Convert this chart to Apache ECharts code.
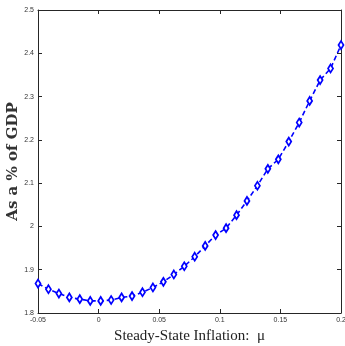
<!DOCTYPE html>
<html>
<head>
<meta charset="utf-8">
<script src="https://cdn.jsdelivr.net/npm/echarts@6/dist/echarts.min.js"></script>
<style>html,body{margin:0;padding:0;background:#fff}#c{width:345px;height:346px}</style>
</head>
<body>
<div id="c"></div>
<script>
const xStart = -0.05, xEnd = 0.2, nPoints = 30;
const inflation = [];
for (let i = 0; i < nPoints; i++) inflation.push(+(xStart + i * (xEnd - xStart) / (nPoints - 1)).toFixed(5));
const values = [1.868, 1.855, 1.845, 1.836, 1.832, 1.828, 1.828, 1.830, 1.836, 1.839,
                1.848, 1.859, 1.872, 1.889, 1.908, 1.930, 1.955, 1.980, 1.996, 2.026,
                2.059, 2.094, 2.133, 2.155, 2.196, 2.240, 2.290, 2.338, 2.365, 2.419];
const xTicks = [-0.05, 0, 0.05, 0.1, 0.15, 0.2];
const yTicks = [1.8, 1.9, 2, 2.1, 2.2, 2.3, 2.4, 2.5];
const xName = 'Steady-State Inflation:  μ';
const yName = 'As a % of GDP';

const chart = echarts.init(document.getElementById('c'), null, {renderer: 'canvas'});
const axisLine = {show: true, onZero: false, lineStyle: {color: '#262626', width: 1}};
const tick = {show: true, inside: true, length: 4, lineStyle: {color: '#262626', width: 1}};
const lbl = {color: '#333', fontSize: 7, fontFamily: 'Liberation Sans, Arial, sans-serif'};
chart.setOption({
  animation: false,
  grid: {left: 38, right: 4, top: 10, bottom: 33, containLabel: false, outerBoundsMode: 'none'},
  xAxis: [{
    type: 'value', min: -0.05, max: 0.2, interval: 0.05,
    axisLine: axisLine, axisTick: tick, splitLine: {show: false},
    axisLabel: Object.assign({margin: 4}, lbl),
    name: xName, nameLocation: 'middle', nameGap: 16,
    nameTextStyle: {fontSize: 15, fontFamily: 'Liberation Serif, Times New Roman, serif', color: '#222'}
  }, {
    type: 'value', position: 'top', min: -0.05, max: 0.2, interval: 0.05,
    axisLine: axisLine, axisTick: tick, axisLabel: {show: false}, splitLine: {show: false}
  }],
  yAxis: [{
    type: 'value', min: 1.8, max: 2.5, interval: 0.1,
    axisLine: axisLine, axisTick: tick, splitLine: {show: false},
    axisLabel: Object.assign({margin: 4}, lbl),
    name: yName, nameLocation: 'middle', nameGap: 17, nameMoveOverlap: false,
    nameTextStyle: {fontSize: 15, fontWeight: 'bold', fontFamily: 'DejaVu Serif, serif', color: '#333'}
  }, {
    type: 'value', position: 'right', min: 1.8, max: 2.5, interval: 0.1,
    axisLine: axisLine, axisTick: tick, axisLabel: {show: false}, splitLine: {show: false}
  }],
  series: [{
    type: 'line',
    data: inflation.map((x, i) => [x, values[i]]),
    symbol: 'diamond', symbolSize: [5, 8], showAllSymbol: true,
    lineStyle: {color: '#0000ff', width: 1.6, type: [5, 3]},
    itemStyle: {color: '#ffffff', borderColor: '#0000ff', borderWidth: 1.8},
    clip: false
  }]
});
</script>
</body>
</html>
